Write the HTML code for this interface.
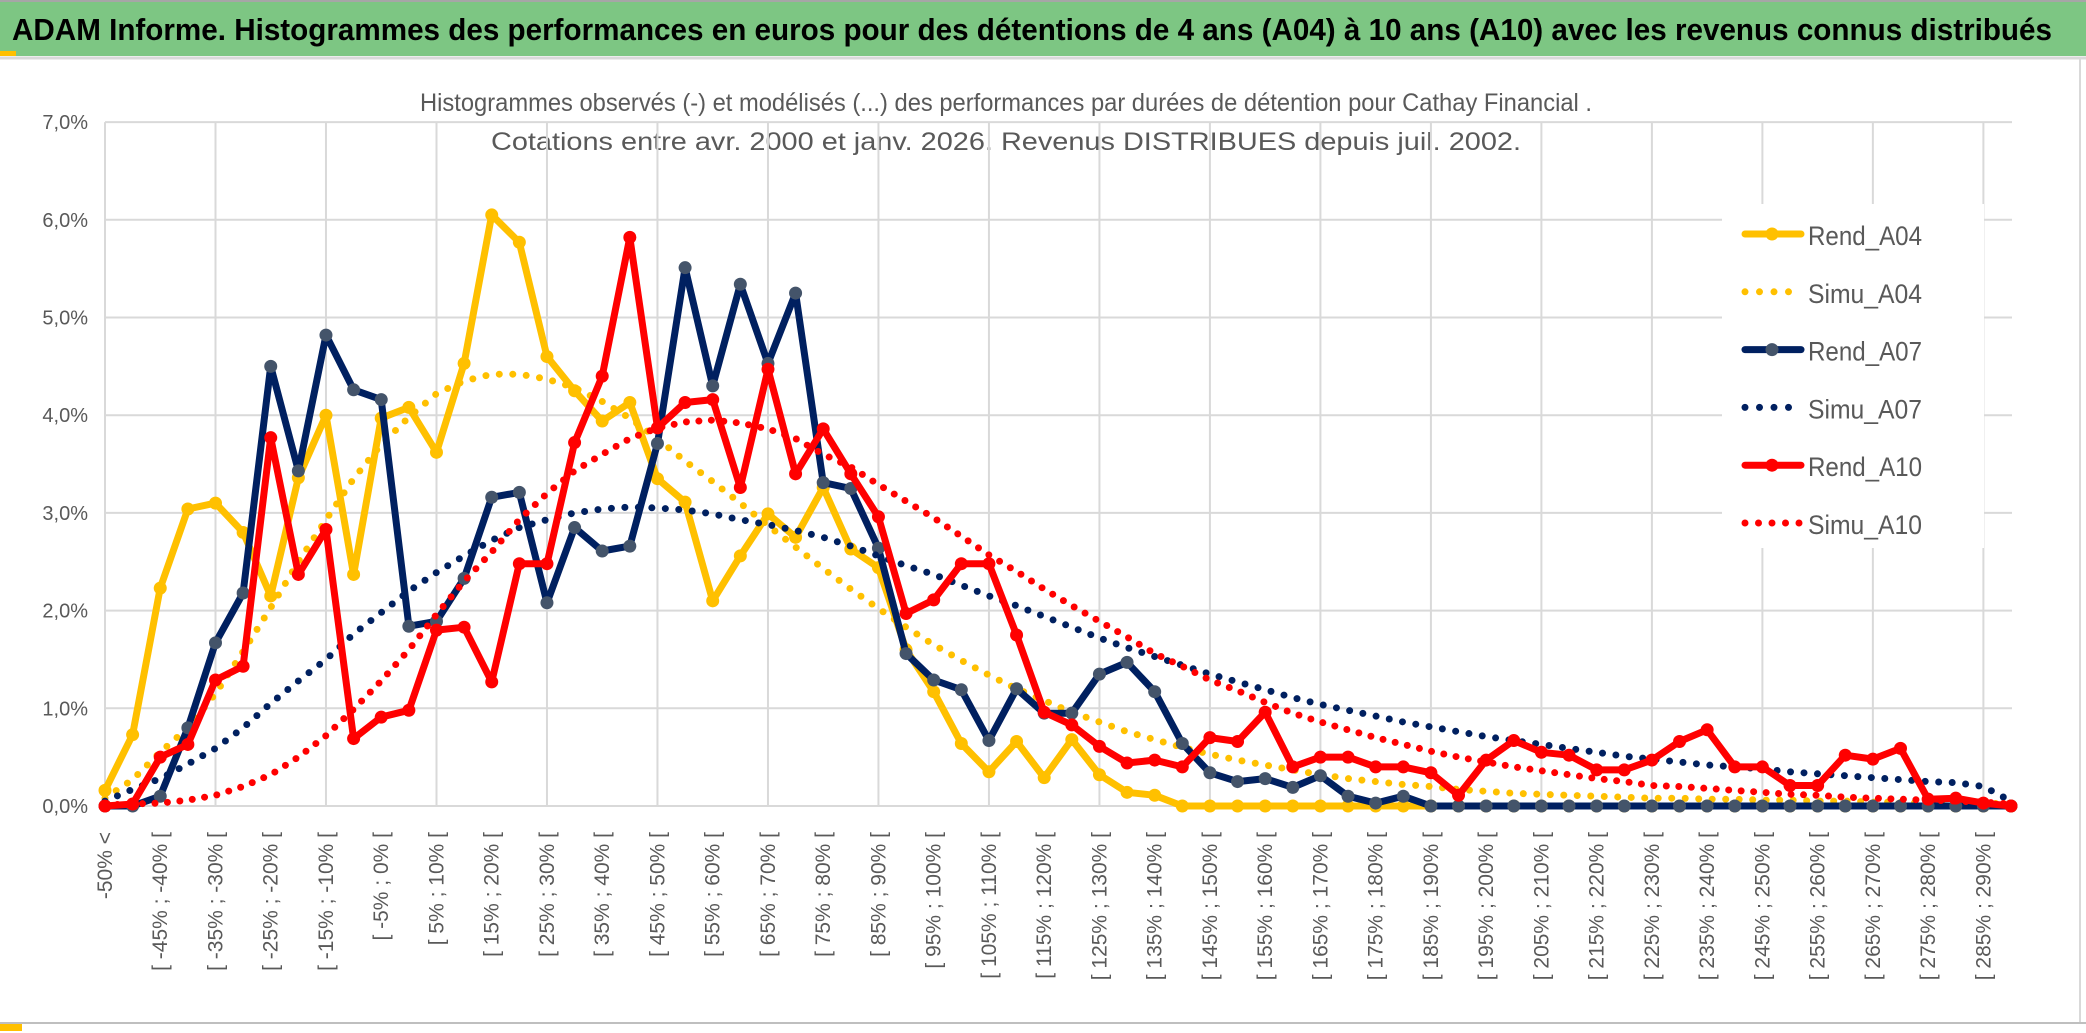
<!DOCTYPE html>
<html><head><meta charset="utf-8">
<style>
html,body{margin:0;padding:0;background:#fff;}
svg{display:block;}
text{font-family:"Liberation Sans",sans-serif;}
</style></head>
<body>
<svg id="chart" width="2086" height="1033" viewBox="0 0 2086 1033" xmlns="http://www.w3.org/2000/svg">
  <rect x="0" y="0" width="2086" height="1033" fill="#ffffff"/>
  <rect x="0" y="0" width="2086" height="56" fill="#7DC683"/>
  <line x1="0" y1="1" x2="2086" y2="1" stroke="#A6A6A6" stroke-width="2"/>
  <rect x="0" y="51" width="16" height="5" fill="#FFC000"/>
  <line x1="0" y1="58" x2="2086" y2="58" stroke="#D9D9D9" stroke-width="3"/>
  <text x="12" y="40" font-size="31" font-weight="bold" fill="#000" textLength="2040" lengthAdjust="spacingAndGlyphs">ADAM Informe. Histogrammes des performances en euros pour des détentions de 4 ans (A04) à 10 ans (A10) avec les revenus connus distribués</text>
  <text x="1006" y="111" font-size="25" fill="#595959" text-anchor="middle" textLength="1172" lengthAdjust="spacingAndGlyphs">Histogrammes observés (-) et modélisés (...) des performances par durées de détention pour Cathay Financial .</text>
  <text x="1006" y="150" font-size="25" fill="#595959" text-anchor="middle" textLength="1030" lengthAdjust="spacingAndGlyphs">Cotations entre avr. 2000 et janv. 2026. Revenus DISTRIBUES depuis juil. 2002.</text>
  <g id="grid"></g>
  <g id="ylabels"></g>
  <g id="xlabels"></g>
  <g id="series"></g>
  <g id="legend"></g>
  <line x1="2080" y1="58" x2="2080" y2="1023" stroke="#D9D9D9" stroke-width="2"/>
  <line x1="0" y1="1023" x2="2086" y2="1023" stroke="#BFBFBF" stroke-width="2"/>
  <rect x="0" y="1024" width="22" height="7" fill="#FFC000"/>
</svg>
<script>
const rendA04 = [0.16,0.73,2.23,3.04,3.1,2.8,2.15,3.36,4.0,2.37,3.97,4.08,3.62,4.53,6.05,5.77,4.6,4.25,3.94,4.13,3.35,3.11,2.1,2.56,2.99,2.75,3.26,2.63,2.44,1.6,1.17,0.64,0.35,0.66,0.29,0.68,0.32,0.14,0.11,0,0,0,0,0,0,0,0,0,0,0,0,0,0,0,0,0,0,0,0,0,0,0,0,0,0,0,0,0,0,0];
const simuA04 = [0.08,0.27,0.55,0.8,1.15,1.58,2.03,2.5,2.93,3.35,3.7,3.98,4.22,4.35,4.42,4.42,4.37,4.28,4.14,3.97,3.76,3.53,3.32,3.1,2.87,2.65,2.43,2.22,2.02,1.83,1.65,1.49,1.34,1.2,1.08,0.96,0.86,0.76,0.68,0.6,0.53,0.47,0.42,0.37,0.32,0.28,0.25,0.22,0.2,0.17,0.15,0.13,0.12,0.11,0.1,0.09,0.08,0.08,0.07,0.07,0.06,0.06,0.05,0.05,0.04,0.04,0.03,0.03,0.03,0.02];
const rendA07 = [0,0,0.1,0.8,1.67,2.18,4.5,3.43,4.82,4.26,4.16,1.84,1.89,2.33,3.16,3.21,2.08,2.85,2.61,2.66,3.71,5.51,4.3,5.34,4.53,5.25,3.31,3.25,2.64,1.56,1.29,1.19,0.67,1.2,0.95,0.95,1.35,1.47,1.17,0.64,0.34,0.25,0.28,0.19,0.31,0.1,0.03,0.1,0,0,0,0,0,0,0,0,0,0,0,0,0,0,0,0,0,0,0,0,0,0];
const simuA07 = [0.05,0.17,0.28,0.43,0.59,0.8,1.05,1.28,1.5,1.76,1.98,2.2,2.39,2.56,2.72,2.85,2.93,3.0,3.04,3.06,3.05,3.03,2.99,2.93,2.88,2.82,2.75,2.66,2.56,2.46,2.37,2.26,2.15,2.05,1.94,1.83,1.72,1.62,1.53,1.44,1.35,1.27,1.19,1.11,1.04,0.98,0.92,0.86,0.81,0.76,0.71,0.67,0.63,0.59,0.55,0.51,0.48,0.45,0.42,0.4,0.38,0.35,0.33,0.31,0.29,0.27,0.25,0.24,0.2,0.05];
const rendA10 = [0,0.02,0.5,0.63,1.29,1.43,3.77,2.37,2.83,0.69,0.91,0.98,1.8,1.83,1.27,2.48,2.48,3.72,4.4,5.82,3.87,4.13,4.16,3.26,4.47,3.4,3.86,3.4,2.96,1.97,2.11,2.48,2.48,1.75,0.96,0.83,0.61,0.44,0.47,0.4,0.7,0.66,0.96,0.4,0.5,0.5,0.4,0.4,0.34,0.11,0.47,0.67,0.55,0.52,0.37,0.37,0.47,0.66,0.78,0.4,0.4,0.21,0.21,0.52,0.48,0.59,0.07,0.08,0.03,0];
const simuA10 = [0.01,0.02,0.03,0.06,0.11,0.2,0.32,0.5,0.72,0.99,1.28,1.6,1.96,2.3,2.6,2.93,3.2,3.43,3.6,3.76,3.87,3.93,3.95,3.92,3.86,3.76,3.6,3.47,3.29,3.12,2.95,2.76,2.57,2.4,2.22,2.05,1.89,1.73,1.56,1.43,1.29,1.18,1.06,0.95,0.86,0.78,0.7,0.63,0.56,0.5,0.45,0.4,0.36,0.32,0.28,0.25,0.21,0.2,0.18,0.16,0.14,0.12,0.11,0.09,0.08,0.07,0.06,0.05,0.04,0.02];
const yTicks = [0,1,2,3,4,5,6,7];
const yTickLabels = ["0,0%","1,0%","2,0%","3,0%","4,0%","5,0%","6,0%","7,0%"];
const categories = ["-50% <"];
for (let k = 1; k < 70; k++) { const a = -50 + 5*(k-1); categories.push("[ " + a + "% ; " + (a+5) + "% ["); }
const seriesNames = ["Rend_A04","Simu_A04","Rend_A07","Simu_A07","Rend_A10","Simu_A10"];

const NS = "http://www.w3.org/2000/svg";
const X0 = 105, X1 = 2011, Y0 = 806, YPER = 97.7;
function xPos(i){ return X0 + i*(X1-X0)/(categories.length-1); }
function yPos(v){ return Y0 - v*YPER; }
function mk(tag, attrs, parent){ const e = document.createElementNS(NS, tag); for (const k in attrs) e.setAttribute(k, attrs[k]); parent.appendChild(e); return e; }

const grid = document.getElementById('grid');
yTicks.forEach((t, k) => {
  const l = mk('line', {x1: X0, x2: 2012, y1: yPos(t), y2: yPos(t), stroke: '#D9D9D9', 'stroke-width': 2}, grid);
  
  
  const tx = mk('text', {x: 88, y: yPos(t)+7, 'font-size': 20, fill: '#595959', 'text-anchor': 'end'}, document.getElementById('ylabels'));
  tx.textContent = yTickLabels[k];
  
  
});
for (let i = 0; i < categories.length; i += 4) {
  const l = mk('line', {x1: xPos(i), x2: xPos(i), y1: yPos(7), y2: Y0, stroke: '#D9D9D9', 'stroke-width': 2}, grid);
  
  
}
const xl = document.getElementById('xlabels');
for (let i = 0; i < categories.length; i += 2) {
  const x = xPos(i) + 7, y = 832;
  const t = mk('text', {x: x, y: y, 'font-size': 21, fill: '#595959', 'text-anchor': 'end', transform: 'rotate(-90 ' + x + ' ' + y + ')'}, xl);
  t.textContent = categories[i];
  
  
}

const ser = document.getElementById('series');
function pts(arr){ return arr.map((v,i) => xPos(i).toFixed(1) + ',' + yPos(v).toFixed(1)).join(' '); }
function solid(arr, color, mcolor, name){
  const g = mk('g', {}, ser);
  
  
  const p = mk('polyline', {points: pts(arr), fill: 'none', stroke: color, 'stroke-width': 7, 'stroke-linejoin': 'round', 'stroke-linecap': 'round'}, g);
  
  
  arr.forEach((v,i) => {
    const c = mk('circle', {cx: xPos(i), cy: yPos(v), r: 6.5, fill: mcolor}, g);
    
    
  });
}
function dotted(arr, color, name, gap){
  const p = mk('polyline', {points: pts(arr), fill: 'none', stroke: color, 'stroke-width': 7, 'stroke-linecap': 'round', 'stroke-dasharray': '0 ' + gap}, ser);
  
  
}
solid(rendA04, '#FFC000', '#FFC000', 'rend-a04');
dotted(simuA04, '#FFC000', 'simu-a04', 13.5);
solid(rendA07, '#002060', '#44546A', 'rend-a07');
dotted(simuA07, '#002060', 'simu-a07', 13.5);
solid(rendA10, '#FF0000', '#FF0000', 'rend-a10');
dotted(simuA10, '#FF0000', 'simu-a10', 12.5);

const lg = document.getElementById('legend');
const lbg = mk('rect', {x: 1722, y: 204, width: 262, height: 344, fill: '#ffffff'}, lg);


const legendColors = ['#FFC000','#FFC000','#002060','#002060','#FF0000','#FF0000'];
const legendMarkers = ['#FFC000',null,'#44546A',null,'#FF0000',null];
seriesNames.forEach((nm, k) => {
  const y = 234 + k*57.8;
  const g = mk('g', {}, lg);
  
  
  if (legendMarkers[k]) {
    mk('line', {x1: 1745, x2: 1801, y1: y, y2: y, stroke: legendColors[k], 'stroke-width': 7, 'stroke-linecap': 'round'}, g);
    mk('circle', {cx: 1772, cy: y, r: 6.5, fill: legendMarkers[k]}, g);
  } else {
    mk('line', {x1: 1745, x2: 1800, y1: y, y2: y, stroke: legendColors[k], 'stroke-width': 7, 'stroke-linecap': 'round', 'stroke-dasharray': '0 ' + (k === 5 ? 13.5 : 14.5)}, g);
  }
  const t = mk('text', {x: 1808, y: y + 11, 'font-size': 27, fill: '#595959', textLength: 114, lengthAdjust: 'spacingAndGlyphs'}, g);
  t.textContent = nm;
});
</script>
</body></html>
